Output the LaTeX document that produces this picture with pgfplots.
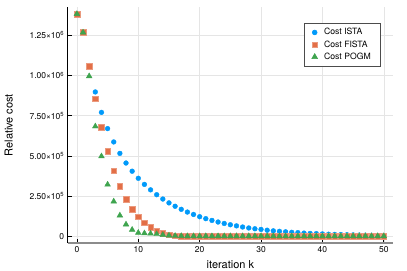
\documentclass[border=0pt]{standalone}
\usepackage{fontspec}
\setmainfont{TeX Gyre Heros}
\usepackage{pgfplots}
\usepackage{pgfplotstable}
\pgfplotsset{compat=1.18}
\definecolor{c1}{HTML}{009AFA}
\definecolor{c2}{HTML}{E36F47}
\definecolor{c3}{HTML}{3EA44E}
\pgfplotstableread{
k ista fista pogm
0 1383000 1383000 1383000
1 1268000 1268000 1268000
2 1062000 1060000 996000
3 898000 856000 684000
4 771000 678000 498000
5 670000 531000 322000
6 587000 409000 217000
7 516000 310000 130000
8 456000 231000 74000
9 405000 169000 41000
10 361000 122000 22000
11 323000 84000 19000
12 289000 56000 17000
13 259000 35000 14000
14 232000 19000 9000
15 208000 9000 5000
16 187000 4000 3000
17 168000 2000 2000
18 151000 1500 1000
19 136000 1200 1000
20 122000 1000 1000
21 110000 1000 1000
22 99000 1000 1000
23 89000 1000 1000
24 80000 1000 1000
25 72000 1000 1000
26 65000 1000 1000
27 58000 1000 1000
28 52000 1000 1000
29 47000 1000 1000
30 43000 1000 1000
31 38000 1000 1000
32 34000 1000 1000
33 31000 1000 1000
34 28000 1000 1000
35 25000 1000 1000
36 23000 1000 1000
37 20000 1000 1000
38 18000 1000 1000
39 17000 1000 1000
40 15000 1000 1000
41 13000 1000 1000
42 12000 1000 1000
43 11000 1000 1000
44 9800 1000 1000
45 8800 1000 1000
46 7900 1000 1000
47 7100 1000 1000
48 6400 1000 1000
49 5800 1000 1000
50 5200 1000 1000
}\costdata
\begin{document}
\begin{tikzpicture}
\begin{axis}[
  at={(0,0)}, anchor=south west,
  scale only axis, width=325.3bp, height=235.7bp,
  xmin=-1.5, xmax=51.5, ymin=-41500, ymax=1424500,
  axis x line*=bottom, axis y line*=left,
  x axis line style={black!45, line width=1.4pt, -},
  y axis line style={black, line width=0.7pt, -},
  tick align=inside, major tick length=4bp,
  major tick style={black, line width=0.6pt},
  xtick={0,10,20,30,40,50},
  ytick={0,250000,500000,750000,1000000,1250000},
  yticklabels={0, 2.50×10\textsuperscript{5}, 5.00×10\textsuperscript{5}, 7.50×10\textsuperscript{5}, 1.00×10\textsuperscript{6}, 1.25×10\textsuperscript{6}},
  scaled y ticks=false,
  grid=major, grid style={black!10, line width=0.5pt},
  ticklabel style={font=\fontsize{8.5}{10}\selectfont},
  /pgf/number format/assume math mode=true,
  xlabel={iteration k}, ylabel={Relative cost},
  every axis x label/.style={at={(rel axis cs:0.5,0)}, anchor=center, yshift=-21.5bp, font=\fontsize{11}{13}\selectfont},
  every axis y label/.style={at={(rel axis cs:0,0.5)}, anchor=center, xshift=-59bp, rotate=90, font=\fontsize{11}{13}\selectfont},
  legend style={at={(rel axis cs:1,1)}, anchor=north east, xshift=-12bp, yshift=-15.4bp,
    draw=black!70, line width=0.6pt, font=\fontsize{8.7}{10}\selectfont,
    inner xsep=8pt, inner ysep=3.5pt, row sep=0.3pt, column sep=4.5bp},
  legend cell align=left,
]
\addplot[only marks, mark=*, mark size=2.4bp, color=c1, mark options={draw=c1, fill=c1}] table[x=k, y=ista] {\costdata};
\addlegendentry{Cost ISTA}
\addplot[only marks, mark=square*, mark size=2.8bp, color=c2, mark options={draw=c2!70!white, fill=c2}] table[x=k, y=fista] {\costdata};
\addlegendentry{Cost FISTA}
\addplot[only marks, mark=triangle*, mark size=3.3bp, color=c3, mark options={draw=c3, fill=c3}] table[x=k, y=pogm] {\costdata};
\addlegendentry{Cost POGM}
\end{axis}
\pgfresetboundingbox
\useasboundingbox (-67.7bp,-28bp) rectangle (339.3bp,243bp);
\end{tikzpicture}
\end{document}
